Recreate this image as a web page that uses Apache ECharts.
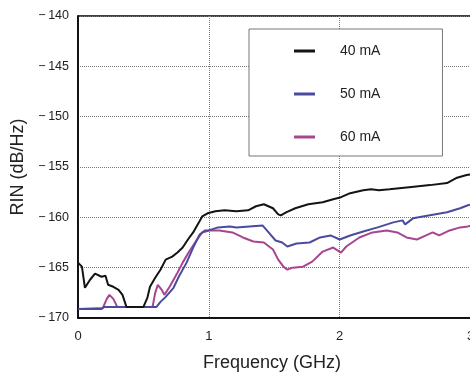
<!DOCTYPE html>
<html>
<head>
<meta charset="utf-8">
<script src="https://cdn.jsdelivr.net/npm/echarts@6/dist/echarts.min.js"></script>
<style>
  html, body { margin: 0; padding: 0; background: #fff; }
  #chart { width: 470px; height: 377px; }
</style>
</head>
<body>
<div id="chart"></div>
<script>
// frequency (GHz) and RIN (dB/Hz)
var freq40 = [0, 0.015, 0.03, 0.053, 0.092, 0.13, 0.18, 0.21, 0.23, 0.27, 0.31, 0.34, 0.37, 0.50, 0.53, 0.55, 0.59, 0.63, 0.67, 0.72, 0.76, 0.80, 0.84, 0.88, 0.92, 0.95, 0.99, 1.05, 1.12, 1.21, 1.30, 1.36, 1.42, 1.49, 1.53, 1.55, 1.59, 1.66, 1.76, 1.87, 1.95, 2.01, 2.08, 2.18, 2.24, 2.30, 2.38, 2.53, 2.69, 2.82, 2.89, 2.97, 3.01];
var rin40 = [-164.5, -164.6, -164.9, -167.0, -166.2, -165.6, -165.9, -165.8, -166.7, -166.9, -167.2, -167.7, -168.9, -168.9, -168.0, -166.9, -166.0, -165.2, -164.2, -163.9, -163.5, -163.0, -162.2, -161.5, -160.6, -159.9, -159.6, -159.4, -159.3, -159.4, -159.3, -158.9, -158.7, -159.1, -159.7, -159.8, -159.5, -159.1, -158.7, -158.5, -158.2, -158.0, -157.6, -157.3, -157.2, -157.3, -157.2, -157.0, -156.8, -156.6, -156.1, -155.8, -155.7];

var freq50 = [0, 0.18, 0.2, 0.6, 0.63, 0.67, 0.73, 0.77, 0.83, 0.88, 0.93, 0.97, 1.00, 1.07, 1.16, 1.21, 1.41, 1.45, 1.51, 1.56, 1.60, 1.67, 1.77, 1.85, 1.93, 2.00, 2.08, 2.18, 2.29, 2.41, 2.48, 2.50, 2.56, 2.69, 2.82, 2.92, 2.98, 3.01];
var rin50 = [-169.1, -169.1, -168.9, -168.9, -168.4, -167.9, -167.0, -165.9, -164.5, -163.0, -161.7, -161.3, -161.3, -161.0, -160.9, -161.0, -160.8, -161.4, -162.3, -162.5, -162.9, -162.6, -162.5, -162.0, -161.8, -162.2, -161.8, -161.4, -161.0, -160.5, -160.3, -160.7, -160.1, -159.8, -159.5, -159.1, -158.8, -158.7];

var freq60 = [0, 0.19, 0.22, 0.24, 0.27, 0.30, 0.57, 0.59, 0.61, 0.64, 0.66, 0.70, 0.76, 0.80, 0.85, 0.91, 0.95, 1.00, 1.08, 1.18, 1.26, 1.34, 1.42, 1.49, 1.53, 1.57, 1.60, 1.64, 1.72, 1.79, 1.87, 1.95, 2.01, 2.05, 2.15, 2.25, 2.36, 2.44, 2.51, 2.59, 2.66, 2.71, 2.76, 2.84, 2.92, 2.98, 3.01];
var rin60 = [-169.1, -169.0, -168.1, -167.7, -168.1, -168.9, -168.9, -167.5, -166.7, -167.2, -167.7, -166.9, -165.5, -164.5, -163.4, -162.2, -161.5, -161.3, -161.3, -161.5, -162.0, -162.4, -162.5, -163.2, -164.2, -164.9, -165.2, -165.0, -164.9, -164.4, -163.4, -163.0, -163.5, -162.9, -162.0, -161.5, -161.3, -161.5, -162.0, -162.2, -161.8, -161.5, -161.8, -161.3, -161.0, -160.9, -160.8];

var seriesNames = ['40 mA', '50 mA', '60 mA'];
var seriesColors = ['#141414', '#4b4b9e', '#a8458f'];

function zip(xs, ys) {
    var out = [];
    for (var i = 0; i < xs.length; i++) {
        out.push([xs[i], ys[i]]);
    }
    return out;
}

var allData = [zip(freq40, rin40), zip(freq50, rin50), zip(freq60, rin60)];

var myChart = echarts.init(document.getElementById('chart'));

var series = [];
for (var k = 0; k < 3; k++) {
    series.push({
        name: seriesNames[k],
        type: 'line',
        data: allData[k],
        showSymbol: false,
        symbol: 'none',
        lineStyle: { color: seriesColors[k], width: 2 },
        itemStyle: { color: seriesColors[k] },
        z: 5 - k
    });
}

var option = {
    backgroundColor: '#fff',
    animation: false,
    textStyle: { fontFamily: 'Liberation Sans, Arial, sans-serif' },
    grid: {
        left: 78,
        top: 16,
        bottom: 59,
        right: -66,
        outerBoundsMode: 'none',
        containLabel: false,
        show: true,
        borderColor: '#000',
        borderWidth: 1.5
    },
    legend: {
        data: seriesNames,
        orient: 'vertical',
        left: 249,
        top: 29,
        backgroundColor: '#fff',
        borderColor: '#777',
        borderWidth: 1,
        padding: [15, 62, 12, 45],
        itemGap: 29,
        itemWidth: 21,
        itemHeight: 3,
        icon: 'rect',
        textStyle: {
            fontSize: 14,
            color: '#222',
            padding: [0, 0, 0, 20]
        }
    },
    xAxis: {
        type: 'value',
        min: 0,
        max: 3.5,
        interval: 1,
        name: 'Frequency (GHz)',
        nameLocation: 'middle',
        nameGap: 36,
        nameTextStyle: { fontSize: 18, color: '#222', padding: [0, 70, 0, 0] },
        axisLine: { lineStyle: { color: '#000', width: 1.5 } },
        axisTick: { show: false },
        axisLabel: { fontSize: 13, color: '#222', margin: 12, showMaxLabel: false },
        splitLine: { show: true, lineStyle: { type: 'dotted', color: '#777', width: 1 } }
    },
    yAxis: {
        type: 'value',
        min: -170,
        max: -140,
        interval: 5,
        name: 'RIN (dB/Hz)',
        nameLocation: 'middle',
        nameGap: 51,
        nameTextStyle: { fontSize: 18, color: '#222' },
        axisLine: { show: true, lineStyle: { color: '#000', width: 1.5 } },
        axisTick: { show: false },
        axisLabel: {
            fontSize: 12.5,
            color: '#222',
            margin: 9,
            formatter: function (v) { return '\u2212\u2009' + Math.abs(v); }
        },
        splitLine: { show: true, lineStyle: { type: 'dotted', color: '#777', width: 1 } }
    },
    series: series
};

myChart.setOption(option);
</script>
</body>
</html>
